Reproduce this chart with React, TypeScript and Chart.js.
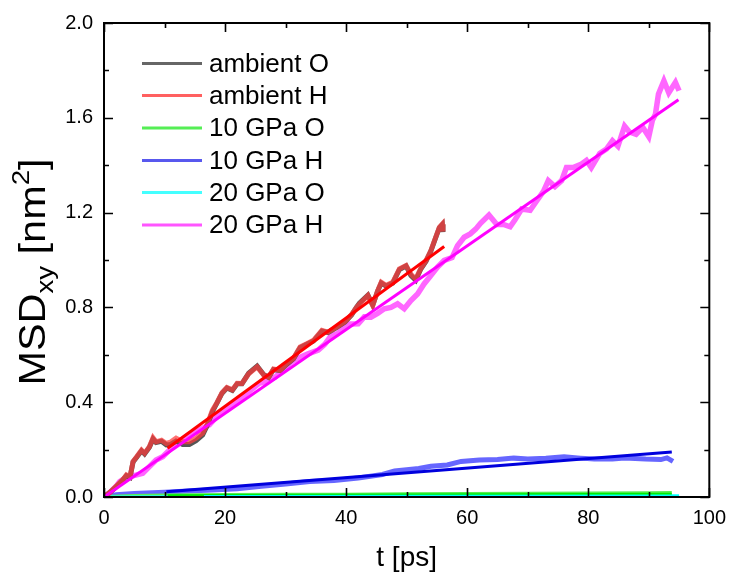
import React, { useEffect, useRef } from "react";
import { Chart, registerables } from "chart.js";

Chart.register(...registerables);

const FONT = "'Liberation Sans', Arial, sans-serif";

// ---------- data ----------
const tAmbH = [0, 1, 2, 3, 3.7, 4.3, 4.8, 5.4, 6.2, 6.7, 7.5, 8.1, 8.6, 9.5, 10.3, 11, 11.9, 13, 14.1, 15.2, 16.3, 17.1, 17.9, 18.7, 19.5, 20.3, 21.2, 22, 22.8, 23.9, 25.3, 26.4, 27.2, 28, 29.1, 30.2, 31.3, 32.4, 33.5, 34.6, 36, 37, 38.4, 39.8, 40.9, 41.7, 42.2, 43.6, 44.4, 45.2, 45.8, 46.6, 47.7, 48.8, 49.9, 50.7, 51.5, 52.3, 53.2, 54, 54.8, 55.4, 55.9, 56];
const ambH = [0, 0.02, 0.045, 0.07, 0.093, 0.085, 0.15, 0.17, 0.198, 0.185, 0.212, 0.25, 0.233, 0.24, 0.226, 0.232, 0.248, 0.233, 0.233, 0.248, 0.27, 0.31, 0.366, 0.4, 0.44, 0.462, 0.452, 0.48, 0.479, 0.52, 0.549, 0.514, 0.506, 0.54, 0.535, 0.563, 0.585, 0.633, 0.647, 0.661, 0.703, 0.696, 0.717, 0.74, 0.77, 0.8, 0.815, 0.85, 0.808, 0.87, 0.906, 0.893, 0.906, 0.963, 0.977, 0.94, 0.92, 0.963, 0.998, 1.04, 1.096, 1.138, 1.152, 1.12];
const ambO = [0, 0.02, 0.043, 0.068, 0.09, 0.083, 0.148, 0.168, 0.195, 0.182, 0.21, 0.245, 0.23, 0.235, 0.22, 0.222, 0.236, 0.222, 0.222, 0.238, 0.262, 0.305, 0.36, 0.398, 0.438, 0.46, 0.45, 0.478, 0.478, 0.522, 0.552, 0.516, 0.505, 0.538, 0.533, 0.56, 0.583, 0.63, 0.645, 0.658, 0.7, 0.694, 0.715, 0.738, 0.768, 0.8, 0.818, 0.852, 0.81, 0.868, 0.903, 0.89, 0.903, 0.96, 0.975, 0.935, 0.915, 0.96, 0.995, 1.038, 1.094, 1.136, 1.15, 1.118];

const t20H = [0, 1, 2, 2.6, 3.5, 4.3, 5.4, 6.4, 7.5, 8.6, 9.7, 10.8, 11.9, 13, 14.1, 15.2, 16.3, 17.4, 19, 20.7, 22, 22.8, 24.2, 25.6, 27, 28.3, 29.6, 31, 32.4, 33.8, 35.4, 36.5, 37.5, 38.6, 39.8, 40.3, 42, 43, 44.1, 45.2, 46.3, 47.4, 48.5, 49.6, 50.7, 51.8, 52.9, 54, 55.1, 56.2, 57.5, 58.4, 59.5, 60.5, 61.4, 62.2, 63.6, 64.9, 66, 67.1, 67.9, 69, 70.4, 71.5, 72.6, 73.4, 74.5, 75.6, 76.4, 77.5, 78.9, 79.7, 80.5, 81.9, 83, 84, 84.9, 86, 86.8, 87.9, 89, 90, 90.6, 91.1, 91.6, 92.5, 93.3, 94.4, 95];
const h20 = [0, 0.02, 0.045, 0.065, 0.08, 0.086, 0.093, 0.1, 0.128, 0.156, 0.17, 0.198, 0.225, 0.245, 0.265, 0.275, 0.29, 0.305, 0.35, 0.38, 0.4, 0.42, 0.45, 0.479, 0.49, 0.506, 0.54, 0.57, 0.59, 0.605, 0.62, 0.645, 0.68, 0.69, 0.717, 0.73, 0.731, 0.76, 0.759, 0.775, 0.794, 0.8, 0.815, 0.794, 0.829, 0.857, 0.9, 0.935, 0.97, 0.998, 1.01, 1.06, 1.096, 1.11, 1.13, 1.155, 1.19, 1.15, 1.15, 1.14, 1.17, 1.215, 1.21, 1.25, 1.29, 1.335, 1.31, 1.335, 1.39, 1.39, 1.405, 1.42, 1.39, 1.45, 1.468, 1.503, 1.48, 1.565, 1.54, 1.53, 1.56, 1.52, 1.59, 1.615, 1.7, 1.756, 1.706, 1.75, 1.714];

const t10H = [0, 2, 5, 8, 10, 14, 18, 22, 26, 30, 34, 38, 42, 46, 48, 50, 52, 54, 56.7, 59, 62, 65, 67.7, 70, 73, 76, 78.7, 81, 84, 86, 89.5, 92, 93, 94];
const h10 = [0, 0.01, 0.015, 0.018, 0.02, 0.025, 0.03, 0.035, 0.045, 0.055, 0.065, 0.07, 0.08, 0.095, 0.11, 0.115, 0.12, 0.13, 0.135, 0.15, 0.156, 0.158, 0.164, 0.16, 0.164, 0.17, 0.164, 0.16, 0.16, 0.165, 0.16, 0.158, 0.165, 0.15];

const t10O = [0, 5, 10, 20, 30, 40, 50, 60, 70, 80, 90, 93.8];
const o10 = [0, 0.004, 0.006, 0.008, 0.009, 0.01, 0.012, 0.013, 0.014, 0.015, 0.016, 0.017];

const t20O = [0, 20, 50, 95];
const o20 = [0, 0.002, 0.003, 0.004];

// linear fits: [tStart, tEnd], [yStart, yEnd]
const fitAmbT = [10.5, 56.2];
const fitAmbY = [0.206, 1.057];
const fit20HT = [0, 94.9];
const fit20HY = [0, 1.676];
const fit10HT = [10.3, 93.8];
const fit10HY = [0.022, 0.19];
const fit10OT = [10.5, 93.8];
const fit10OY = [0.005, 0.012];
const fit20OT = [16.5, 95];
const fit20OY = [0.002, 0.004];

const xTicks = [0, 20, 40, 60, 80, 100];
const yTicks = [0, 0.4, 0.8, 1.2, 1.6, 2.0];

const legendLabels = ["ambient O", "ambient H", "10 GPa O", "10 GPa H", "20 GPa O", "20 GPa H"];
const legendColors = ["#666666", "#ff6060", "#55ee55", "#5858ee", "#44ffff", "#ff55ff"];

const pts = (t: number[], y: number[]) => t.map((v, i) => ({ x: v, y: y[i] }));

const line = (data: any[], color: string, width: number, order: number) => ({
  data,
  borderColor: color,
  backgroundColor: color,
  borderWidth: width,
  pointRadius: 0,
  tension: 0,
  fill: false,
  order,
});

const framePlugin = {
  id: "frame",
  afterDatasetsDraw(chart: any) {
    const { ctx, chartArea: a, scales } = chart;
    const xs = scales.x;
    const ys = scales.y;
    ctx.save();
    ctx.strokeStyle = "#000";
    ctx.lineWidth = 2;
    ctx.strokeRect(a.left, a.top, a.right - a.left, a.bottom - a.top);
    ctx.lineWidth = 1.6;
    ctx.beginPath();
    for (let v = 0; v <= 100; v += 10) {
      const px = Math.round(xs.getPixelForValue(v)) + 0.5;
      const len = v % 20 === 0 ? 9 : 5;
      ctx.moveTo(px, a.bottom);
      ctx.lineTo(px, a.bottom - len);
      ctx.moveTo(px, a.top);
      ctx.lineTo(px, a.top + len);
    }
    for (let i = 0; i <= 10; i++) {
      const v = i * 0.2;
      const py = Math.round(ys.getPixelForValue(v)) + 0.5;
      const len = i % 2 === 0 ? 9 : 5;
      ctx.moveTo(a.left, py);
      ctx.lineTo(a.left + len, py);
      ctx.moveTo(a.right, py);
      ctx.lineTo(a.right - len, py);
    }
    ctx.stroke();
    ctx.restore();
  },
  afterDraw(chart: any) {
    const { ctx } = chart;
    ctx.save();
    // legend
    const rows = [63.5, 95.5, 128, 160.5, 192.5, 225];
    ctx.font = `26px ${FONT}`;
    ctx.textBaseline = "middle";
    ctx.textAlign = "left";
    legendLabels.forEach((lab, i) => {
      ctx.strokeStyle = legendColors[i];
      ctx.lineWidth = 3;
      ctx.beginPath();
      ctx.moveTo(142, rows[i]);
      ctx.lineTo(202, rows[i]);
      ctx.stroke();
      ctx.fillStyle = "#000";
      ctx.fillText(lab, 209, rows[i] + 1);
    });
    // y title with subscript / superscript
    const F = 36;
    const S = 24;
    const parts = [
      { t: "MSD", f: F, dy: 0 },
      { t: "xy", f: S, dy: 8 },
      { t: " [nm", f: F, dy: 0 },
      { t: "2", f: S, dy: -16 },
      { t: "]", f: F, dy: 0 },
    ];
    let total = 0;
    const widths = parts.map((p) => {
      ctx.font = `${p.f}px ${FONT}`;
      const w = ctx.measureText(p.t).width;
      total += w;
      return w;
    });
    ctx.translate(45, 272);
    ctx.rotate(-Math.PI / 2);
    ctx.scale(1.15, 1);
    ctx.textBaseline = "alphabetic";
    ctx.fillStyle = "#000";
    let x = -total / 2;
    parts.forEach((p, i) => {
      ctx.font = `${p.f}px ${FONT}`;
      ctx.fillText(p.t, x, p.dy);
      x += widths[i];
    });
    ctx.restore();
  },
};

export default function App() {
  const ref = useRef<HTMLCanvasElement | null>(null);
  useEffect(() => {
    if (!ref.current) return;
    const chart = new Chart(ref.current, {
      type: "line",
      data: {
        datasets: [
          line(pts(fitAmbT, fitAmbY), "#ff0000", 3, 1),
          line(pts(fit20HT, fit20HY), "#ff00ff", 3, 2),
          line(pts(fit20OT, fit20OY), "#00ffff", 3, 3),
          line(pts(fit10OT, fit10OY), "#00ee00", 3, 4),
          line(pts(fit10HT, fit10HY), "#0000dd", 3, 5),
          line(pts(tAmbH, ambH), "rgba(255,60,60,0.72)", 5, 6),
          line(pts(tAmbH, ambO), "#555555", 5, 7),
          line(pts(t20H, h20), "rgba(255,85,255,0.9)", 5.5, 8),
          line(pts(t20O, o20), "#22ffff", 3, 9),
          line(pts(t10O, o10), "#55ee55", 4, 10),
          line(pts(t10H, h10), "#6666ff", 5, 11),
        ] as any,
      },
      options: {
        responsive: false,
        animation: false,
        devicePixelRatio: 1,
        layout: { padding: { left: 8, right: 21, top: 22, bottom: 0 } },
        plugins: { legend: { display: false }, tooltip: { enabled: false } },
        scales: {
          x: {
            type: "linear",
            min: 0,
            max: 100,
            afterBuildTicks: (s: any) => {
              s.ticks = xTicks.map((v) => ({ value: v }));
            },
            ticks: { font: { size: 20, family: FONT }, color: "#000", padding: 9, maxRotation: 0 },
            grid: { display: false, drawTicks: false },
            border: { display: false },
            title: {
              display: true,
              text: "t [ps]",
              color: "#000",
              font: { size: 28, family: FONT },
              padding: { top: 0, bottom: 4 },
            },
            afterFit: (s: any) => {
              s.height = 82;
            },
          },
          y: {
            type: "linear",
            min: 0,
            max: 2,
            afterBuildTicks: (s: any) => {
              s.ticks = yTicks.map((v) => ({ value: v }));
            },
            ticks: {
              font: { size: 20, family: FONT },
              color: "#000",
              padding: 11,
              callback: (v: any) => Number(v).toFixed(1),
            },
            grid: { display: false, drawTicks: false },
            border: { display: false },
            afterFit: (s: any) => {
              s.width = 96;
            },
          },
        },
      } as any,
      plugins: [framePlugin],
    });
    return () => chart.destroy();
  }, []);
  return (
    <div style={{ position: "fixed", left: 0, top: 0, width: 735, height: 579, background: "#fff" }}>
      <canvas ref={ref} width={735} height={579} style={{ display: "block", width: 735, height: 579 }} />
    </div>
  );
}
